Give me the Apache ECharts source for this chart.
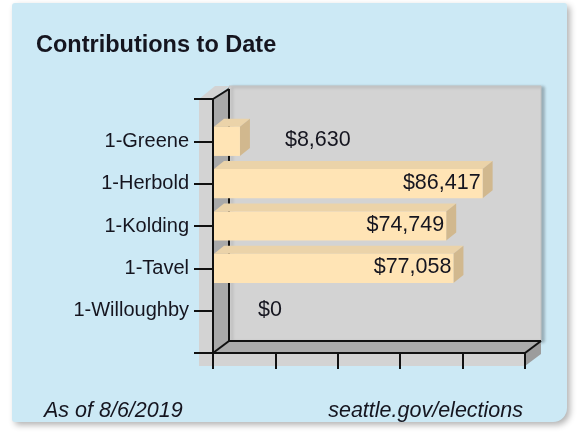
<!DOCTYPE html>
<html>
<head>
<meta charset="utf-8">
<script src="https://cdn.jsdelivr.net/npm/echarts@6/dist/echarts.min.js"></script>
<style>
html,body{margin:0;padding:0;background:#fff;}
#chart{width:581px;height:433px;}
</style>
</head>
<body>
<div id="chart"></div>
<script>
// ---- data ----
const categories = ['1-Greene', '1-Herbold', '1-Kolding', '1-Tavel', '1-Willoughby'];
const contributions = [8630, 86417, 74749, 77058, 0];
const titleText = 'Contributions to Date';
const footerLeft = 'As of 8/6/2019';
const footerRight = 'seattle.gov/elections';
const xMin = 0, xMax = 100000, xStep = 20000;
const yMin = 0, yMax = 6;

// ---- style ----
const FONT = '"Liberation Sans", Arial, sans-serif';
const TXT = '#15151f';
const WALL = { dx: 16, dy: -12, slab: 14 };
const BAR = { dx: 10, dy: -8, frac: 0.69 };

function fmt(v) {
  return '$' + String(v).replace(/\B(?=(\d{3})+(?!\d))/g, ',');
}

const chart = echarts.init(document.getElementById('chart'), null, { renderer: 'canvas' });

const barData = contributions.map((v, i) => [v, i + 1]);

function renderFrame(params, api) {
  const bl = api.coord([xMin, yMax]); // bottom-left front
  const br = api.coord([xMax, yMax]);
  const tl = api.coord([xMin, yMin]);
  const dx = WALL.dx, dy = WALL.dy, s = WALL.slab;
  const line = { stroke: '#111', lineWidth: 2 };
  return {
    type: 'group',
    children: [
      { type: 'rect', shape: { x: tl[0] + dx, y: tl[1] + dy - 1, width: br[0] - bl[0], height: bl[1] - tl[1] + 1 },
        style: { fill: '#d3d3d3', stroke: '#c2c2c2', lineWidth: 1, shadowBlur: 3, shadowOffsetX: 3, shadowOffsetY: 1, shadowColor: 'rgba(0,0,0,0.25)' } },
      { type: 'rect', shape: { x: tl[0] - s, y: tl[1], width: s, height: bl[1] - tl[1] + 13 },
        style: { fill: '#d3d3d3' } },
      { type: 'polygon', shape: { points: [[tl[0] - s, tl[1]], [tl[0], tl[1]], [tl[0] + dx, tl[1] + dy - 1], [tl[0] - s + dx, tl[1] + dy - 1]] },
        style: { fill: '#d3d3d3' } },
      { type: 'rect', shape: { x: tl[0] - s, y: bl[1], width: br[0] - bl[0] + s, height: 13 },
        style: { fill: '#d3d3d3' } },
      { type: 'polygon', shape: { points: [[br[0], bl[1]], [br[0] + dx, bl[1] + dy], [br[0] + dx, bl[1] + dy + 13], [br[0], bl[1] + 13]] },
        style: { fill: '#9c9c9c' } },
      { type: 'polygon', shape: { points: [[tl[0], tl[1]], [tl[0] + dx, tl[1] + dy], [bl[0] + dx, bl[1] + dy], [bl[0], bl[1]]] },
        style: { fill: '#a9a9a9' } },
      { type: 'polygon', shape: { points: [[bl[0], bl[1]], [br[0], br[1]], [br[0] + dx, br[1] + dy], [bl[0] + dx, bl[1] + dy]] },
        style: { fill: '#ababab' } },
      { type: 'line', shape: { x1: tl[0] + dx, y1: tl[1] + dy + 2, x2: bl[0] + dx, y2: bl[1] + dy }, style: line },
      { type: 'line', shape: { x1: bl[0] + dx, y1: bl[1] + dy, x2: br[0] + dx, y2: br[1] + dy }, style: line },
      { type: 'line', shape: { x1: tl[0], y1: tl[1], x2: tl[0] + dx, y2: tl[1] + dy + 2 }, style: line },
      { type: 'line', shape: { x1: bl[0], y1: bl[1], x2: bl[0] + dx, y2: bl[1] + dy }, style: line },
      { type: 'line', shape: { x1: br[0], y1: br[1], x2: br[0] + dx, y2: br[1] + dy }, style: line }
    ]
  };
}

function renderBar(params, api) {
  const v = api.value(0), c = api.value(1);
  const start = api.coord([xMin, c]);
  const end = api.coord([v, c]);
  const band = api.size([0, 1])[1];
  const h = band * BAR.frac;
  const yT = start[1] - h / 2;
  const x0 = start[0] + 1, x1 = end[0];
  const children = [];
  if (v > 0) {
    children.push(
      { type: 'polygon', shape: { points: [[x0, yT], [x1, yT], [x1 + BAR.dx, yT + BAR.dy], [x0 + BAR.dx, yT + BAR.dy]] },
        style: { fill: '#ebd3a9' } },
      { type: 'polygon', shape: { points: [[x1, yT], [x1 + BAR.dx, yT + BAR.dy], [x1 + BAR.dx, yT + h + BAR.dy], [x1, yT + h]] },
        style: { fill: '#d1b88e' } },
      { type: 'rect', shape: { x: x0, y: yT, width: x1 - x0, height: h },
        style: { fill: '#ffe4b5' } }
    );
  }
  const label = fmt(v);
  const estW = label.length * 11.5;
  const inside = (x1 - x0) > estW + 20;
  children.push({
    type: 'text',
    style: {
      text: label,
      x: inside ? x1 - 2 : x1 + 45,
      y: start[1] - 1,
      align: inside ? 'right' : 'left',
      verticalAlign: 'middle',
      fill: TXT,
      fontSize: 21.5,
      fontFamily: FONT
    }
  });
  return { type: 'group', children };
}

const option = {
  animation: false,
  backgroundColor: '#ffffff',
  graphic: [
    { type: 'rect', shape: { x: 12, y: 3, width: 555, height: 419, r: [3, 3, 14, 3] },
      style: { fill: '#cce9f5', shadowBlur: 6, shadowOffsetX: 3, shadowOffsetY: 3, shadowColor: 'rgba(0,0,0,0.3)' } },
    { type: 'text', style: { text: titleText, x: 36, y: 46, verticalAlign: 'middle', fill: TXT, fontSize: 23.5, fontWeight: 'bold', fontFamily: FONT } },
    { type: 'text', style: { text: footerLeft, x: 44, y: 411, verticalAlign: 'middle', fill: TXT, fontSize: 21.5, fontStyle: 'italic', fontFamily: FONT } },
    { type: 'text', style: { text: footerRight, x: 523, y: 411, align: 'right', verticalAlign: 'middle', fill: TXT, fontSize: 21.5, fontStyle: 'italic', fontFamily: FONT } }
  ],
  grid: { left: 213, top: 99, right: 56, bottom: 80, containLabel: false },
  xAxis: {
    type: 'value', min: xMin, max: xMax, interval: xStep, z: 10, position: 'bottom',
    axisLine: { show: true, onZero: false, lineStyle: { color: '#111', width: 2 } },
    axisTick: { show: true, length: 16, lineStyle: { color: '#111', width: 2 } },
    axisLabel: { show: false },
    splitLine: { show: false }
  },
  yAxis: {
    type: 'value', min: yMin, max: yMax, interval: 1, inverse: true, z: 10, position: 'left',
    axisLine: { show: true, onZero: false, lineStyle: { color: '#111', width: 2 } },
    axisTick: { show: true, length: 19, lineStyle: { color: '#111', width: 2 } },
    axisLabel: { show: true, margin: 24, color: TXT, fontSize: 20, fontFamily: FONT,
      formatter: v => categories[v - 1] || '' },
    splitLine: { show: false }
  },
  series: [
    { type: 'custom', name: 'frame', z: 1, silent: true, data: [[0, 0]], renderItem: renderFrame, encode: { x: 0, y: 1 } },
    { type: 'custom', name: 'Contributions', z: 3, data: barData, renderItem: renderBar, encode: { x: 0, y: 1 } }
  ]
};
chart.setOption(option);
</script>
</body>
</html>
